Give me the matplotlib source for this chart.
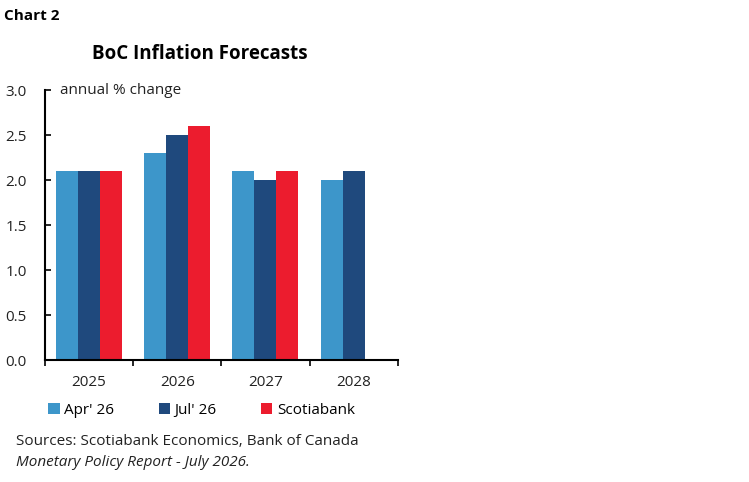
import matplotlib
matplotlib.use('Agg')
import matplotlib.pyplot as plt
import numpy as np

plt.rcParams['font.family'] = ['Open Sans', 'DejaVu Sans']

years = ['2025', '2026', '2027', '2028']
apr26 = [2.1, 2.3, 2.1, 2.0]
jul26 = [2.1, 2.5, 2.0, 2.1]
scotia = [2.1, 2.6, 2.1, np.nan]
series_names = ["Apr' 26", "Jul' 26", 'Scotiabank']
colors = ['#3D96CA', '#1F497D', '#EC1C2E']
yticks = [0.0, 0.5, 1.0, 1.5, 2.0, 2.5, 3.0]

fig = plt.figure(figsize=(7.49, 4.82), dpi=100)
ax = fig.add_axes([0.060, 0.253, 0.471, 0.560])

x = np.arange(len(years))
w = 0.25
for i, (vals, name, c) in enumerate(zip([apr26, jul26, scotia], series_names, colors)):
    ax.bar(x + (i - 1) * w, vals, width=w, color=c, label=name)

ax.set_xlim(-0.5, len(years) - 0.5)
ax.set_ylim(0, 3.0)
ax.set_yticks(yticks)
ax.set_yticklabels(['%.1f' % v for v in yticks], fontsize=11, color='#222222')
ax.tick_params(axis='y', direction='in', length=4, width=1.2, pad=13)
# x ticks at group boundaries, labels at centres
ax.set_xticks(np.arange(len(years) + 1) - 0.5)
ax.set_xticklabels([])
ax.set_xticks(x, minor=True)
ax.set_xticklabels(years, minor=True, fontsize=11, color='#222222')
ax.tick_params(axis='x', which='major', direction='out', length=4, width=1.2)
ax.tick_params(axis='x', which='minor', length=0, pad=11)
for s in ['top', 'right']:
    ax.spines[s].set_visible(False)
ax.spines['left'].set_linewidth(1.5)
ax.spines['bottom'].set_linewidth(1.5)

ax.text(0.042, 1.0, 'annual % change', transform=ax.transAxes, fontsize=11,
        va='center', ha='left', color='#222222')

fig.text(0.006, 0.967, 'Chart 2', fontsize=11, fontweight='bold', va='center')
fig.text(0.2665, 0.887, 'BoC Inflation Forecasts', fontsize=13.5, fontweight='bold',
         ha='center', va='center')

leg = fig.legend(loc='center left', bbox_to_anchor=(0.046, 0.149), ncol=3, frameon=False,
                 fontsize=11, handlelength=0.75, handleheight=0.75, handletextpad=0.3,
                 columnspacing=2.9)

fig.text(0.022, 0.085, 'Sources: Scotiabank Economics, Bank of Canada', fontsize=11,
         va='center', color='#222222')
fig.text(0.022, 0.040, 'Monetary Policy Report - July 2026.', fontsize=11,
         style='italic', va='center', color='#222222')

fig.savefig('out.png', dpi=100)
